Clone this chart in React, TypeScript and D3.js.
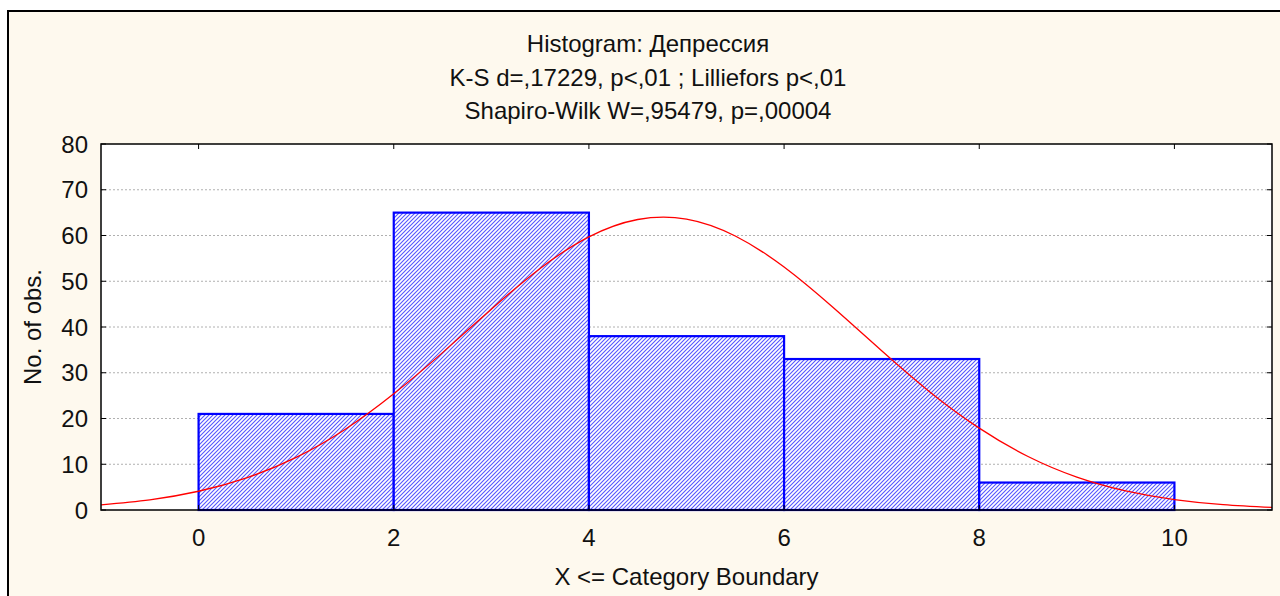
import React from "react";
import * as d3 from "d3";

const binStarts = [0, 2, 4, 6, 8];
const binWidth = 2;
const counts = [21, 65, 38, 33, 6];
const xTicks = [0, 2, 4, 6, 8, 10];
const yTicks = [0, 10, 20, 30, 40, 50, 60, 70, 80];
const curveX = [-1, -0.5, 0, 0.5, 1, 1.5, 2, 2.5, 3, 3.5, 4, 4.5, 5, 5.5, 6, 6.5, 7, 7.5, 8, 8.5, 9, 9.5, 10, 10.5, 11];
const curveY = [1.14, 2.23, 4.1, 7.08, 11.5, 17.6, 25.4, 34.4, 43.9, 52.8, 59.7, 63.5, 63.6, 59.9, 53.1, 44.3, 34.8, 25.7, 17.9, 11.7, 7.2, 4.19, 2.29, 1.18, 0.57];
const titleLines = [
  "Histogram: Депрессия",
  "K-S d=,17229, p<,01 ; Lilliefors p<,01",
  "Shapiro-Wilk W=,95479, p=,00004",
];
const xLabel = "X <= Category Boundary";
const yLabel = "No. of obs.";

const W = 1280;
const H = 596;
const L = 101, R = 1272, T = 144, B = 510;
const font = "Arial, 'Liberation Sans', sans-serif";
const FS = 24;
const titleX = 648;

export default function App() {
  const x = d3.scaleLinear().domain([-1, 11]).range([L, R]);
  const y = d3.scaleLinear().domain([0, 80]).range([B, T]);
  const line = d3
    .line<number>()
    .x((_, i) => x(curveX[i]))
    .y((d) => y(d))
    .curve(d3.curveNatural);
  return (
    <div style={{ position: "absolute", left: 0, top: 0 }}>
      <svg width={W} height={H} style={{ display: "block" }}>
        <defs>
          <pattern id="hatch" width={4} height={4} patternUnits="userSpaceOnUse">
            <rect width={4} height={4} fill="#ffffff" />
            <path d="M-1,1 L1,-1 M0,4 L4,0 M3,5 L5,3" stroke="#5555ff" strokeWidth={1.1} />
          </pattern>
          <clipPath id="plot">
            <rect x={L} y={T} width={R - L} height={B - T} />
          </clipPath>
        </defs>
        <rect x={0} y={0} width={W} height={H} fill="#ffffff" />
        <rect x={8} y={11} width={W} height={H} fill="#fef9ee" stroke="#000" strokeWidth={2} />
        {titleLines.map((t, i) => (
          <text key={i} x={titleX} y={52 + i * 33.5} textAnchor="middle" fontFamily={font} fontSize={FS} fill="#111">
            {t}
          </text>
        ))}
        <rect x={L} y={T} width={R - L} height={B - T} fill="#ffffff" />
        {yTicks.filter((v) => v > 0 && v < 80).map((v) => (
          <line key={v} x1={L} x2={R} y1={y(v)} y2={y(v)} stroke="#b0b0b0" strokeWidth={1} strokeDasharray="2,2" />
        ))}
        {counts.map((c, i) => (
          <rect
            key={i}
            x={x(binStarts[i])}
            y={y(c)}
            width={x(binStarts[i] + binWidth) - x(binStarts[i])}
            height={B - y(c)}
            fill="url(#hatch)"
            stroke="#0000ff"
            strokeWidth={2.2}
          />
        ))}
        <path d={line(curveY) || ""} fill="none" stroke="#ff0000" strokeWidth={1.3} clipPath="url(#plot)" />
        <rect x={L} y={T} width={R - L} height={B - T} fill="none" stroke="#000" strokeWidth={1.5} />
        {yTicks.map((v) => (
          <g key={v}>
            <line x1={L} x2={L + 5} y1={y(v)} y2={y(v)} stroke="#000" />
            <line x1={R - 5} x2={R} y1={y(v)} y2={y(v)} stroke="#000" />
            <text x={88} y={y(v) + 8.5} textAnchor="end" fontFamily={font} fontSize={FS} fill="#111">
              {v}
            </text>
          </g>
        ))}
        {xTicks.map((v) => (
          <g key={v}>
            <line x1={x(v)} x2={x(v)} y1={T} y2={T + 5} stroke="#000" />
            <line x1={x(v)} x2={x(v)} y1={B - 5} y2={B} stroke="#000" />
            <text x={x(v)} y={546} textAnchor="middle" fontFamily={font} fontSize={FS} fill="#111">
              {v}
            </text>
          </g>
        ))}
        <text x={(L + R) / 2} y={585} textAnchor="middle" fontFamily={font} fontSize={FS} fill="#111">
          {xLabel}
        </text>
        <text
          transform={`translate(41,${(T + B) / 2}) rotate(-90)`}
          textAnchor="middle"
          fontFamily={font}
          fontSize={FS}
          fill="#111"
        >
          {yLabel}
        </text>
      </svg>
    </div>
  );
}
